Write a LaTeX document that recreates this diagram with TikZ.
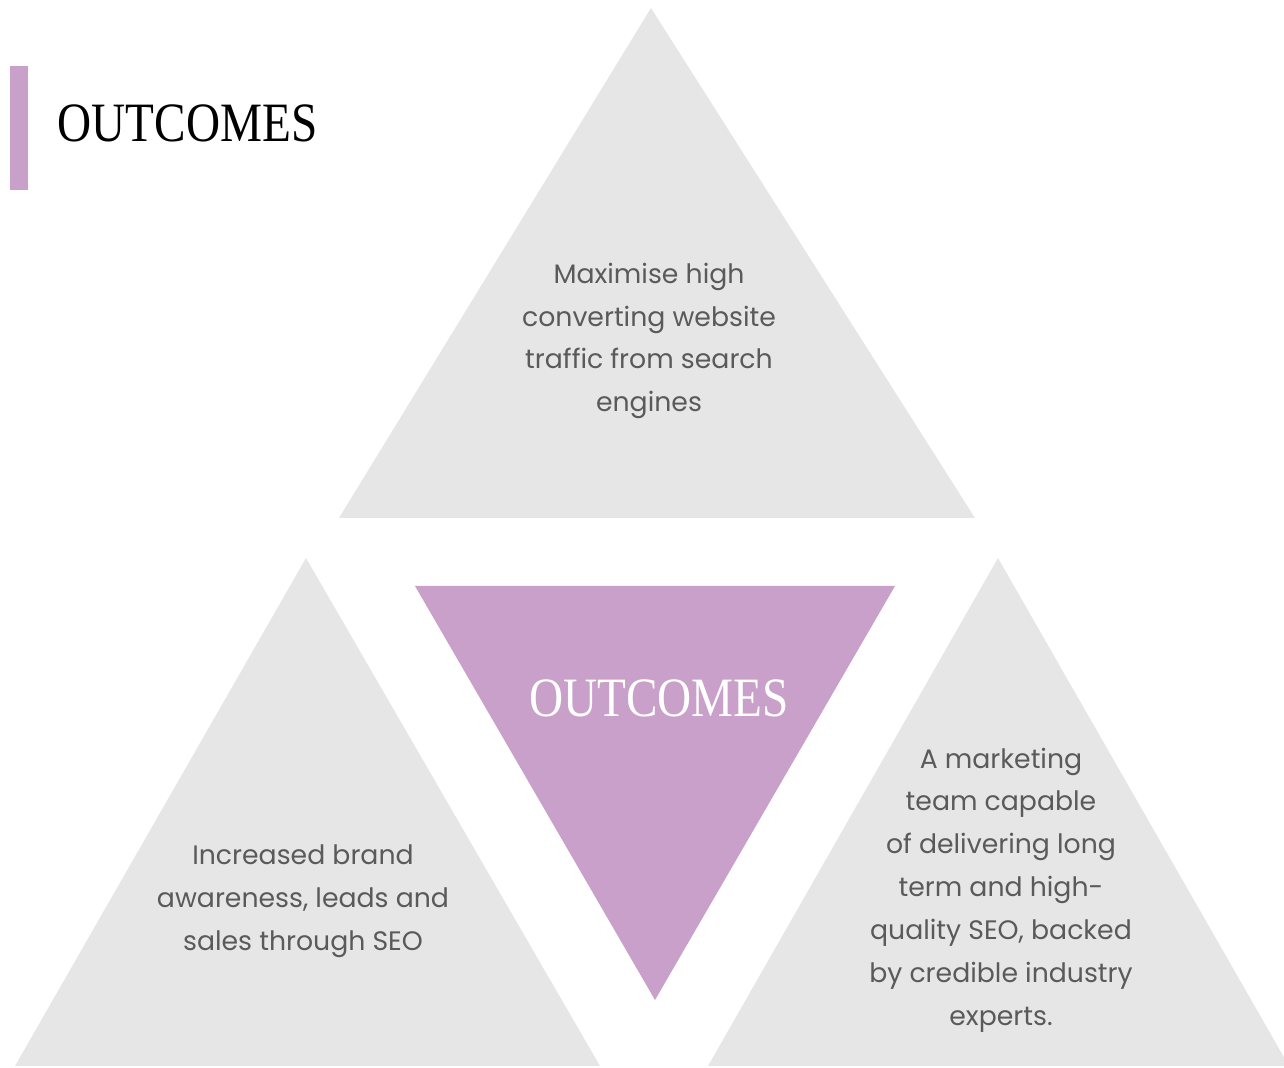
\documentclass[tikz,border=0pt]{standalone}
\usepackage{fontspec}
\setmainfont{Poppins}
\newfontfamily\titlefont{Liberation Serif}
\definecolor{tripale}{HTML}{E6E6E6}
\definecolor{orchid}{HTML}{C8A0C9}
\definecolor{bodygray}{HTML}{5A5A5A}
\tikzset{
  pale/.style={fill=tripale, draw=none},
  lilac/.style={fill=orchid, draw=none},
  blurb/.style={align=center, text=bodygray, font=\fontsize{7.6}{12.2}\selectfont, inner sep=0pt},
  heading/.style={inner sep=0pt, font=\titlefont\fontsize{15.8}{18}\selectfont}
}
\begin{document}
\begin{tikzpicture}
        \useasboundingbox (0,0) rectangle (12.84,10.68);
        \clip (0,0) rectangle (12.84,10.68);
        % triangles
        \fill[pale] (6.51,10.60) -- (3.39,5.50) -- (9.75,5.50) -- cycle;
        \fill[pale] (3.06,5.10) -- (0.15,0.02) -- (6.00,0.02) -- cycle;
        \fill[pale] (9.98,5.10) -- (7.08,0.02) -- (12.89,0.02) -- cycle;
        \fill[lilac] (4.15,4.82) -- (8.95,4.82) -- (6.55,0.68) -- cycle;
        % side bar and title
        \fill[lilac] (0.10,10.02) rectangle (0.28,8.78);
        \node[heading, anchor=base west] (title) at (0.57,9.26) {\scalebox{0.85}[1]{OUTCOMES}};
        \node[heading, text=white, anchor=base] (core) at (6.59,3.51) {\scalebox{0.85}[1]{OUTCOMES}};
        % texts
        \node[blurb] (traffic) at (6.49,7.27) {Maximise high\\converting website\\traffic from search\\engines};
        \node[blurb] (brand) at (3.03,1.67) {Increased brand\\awareness, leads and\\sales through SEO};
        \node[blurb] (team) at (10.01,1.78) {A marketing\\team capable\\of delivering long\\term and high-\\quality SEO, backed\\by credible industry\\experts.};
\end{tikzpicture}
\end{document}
